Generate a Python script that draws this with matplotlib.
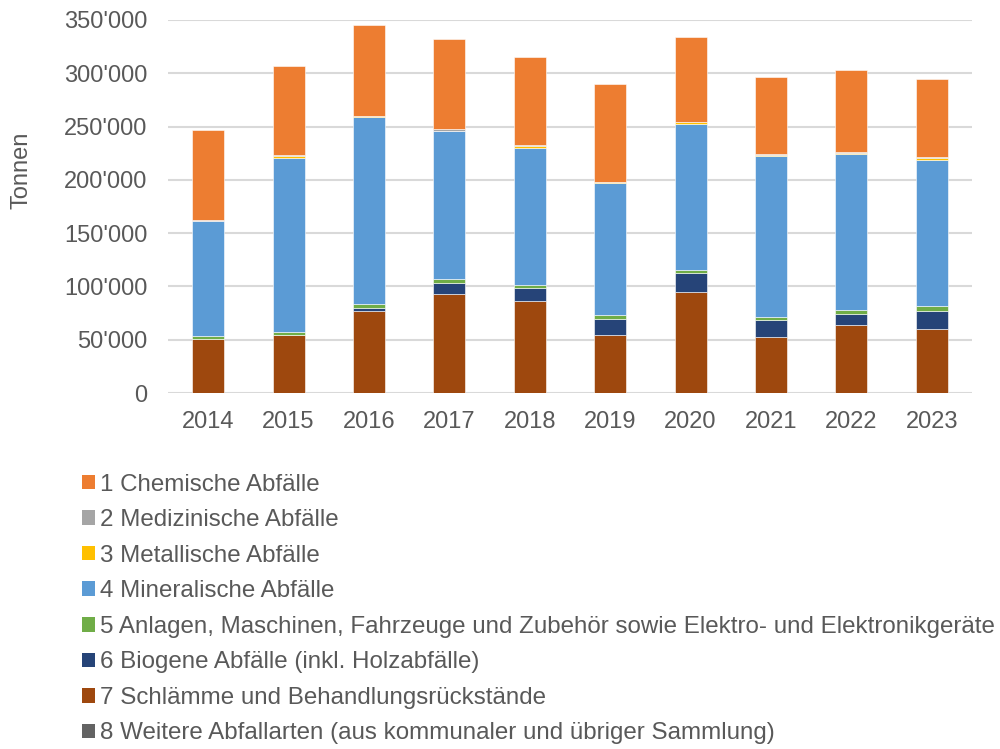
import matplotlib
matplotlib.use("Agg")
import matplotlib.pyplot as plt
from matplotlib.patches import Patch
from matplotlib.ticker import FuncFormatter
import numpy as np

plt.rcParams['font.family'] = ['Liberation Sans', 'DejaVu Sans']

years = ['2014', '2015', '2016', '2017', '2018', '2019', '2020', '2021', '2022', '2023']

labels = [
    '1 Chemische Abfälle',
    '2 Medizinische Abfälle',
    '3 Metallische Abfälle',
    '4 Mineralische Abfälle',
    '5 Anlagen, Maschinen, Fahrzeuge und Zubehör sowie Elektro- und Elektronikgeräte',
    '6 Biogene Abfälle (inkl. Holzabfälle)',
    '7 Schlämme und Behandlungsrückstände',
    '8 Weitere Abfallarten (aus kommunaler und übriger Sammlung)',
]
colors = ['#ED7D31', '#A5A5A5', '#FFC000', '#5B9BD5', '#70AD47', '#264478', '#9E480E', '#636363']

# tonnes per year
chemisch = [84800, 83700, 85400, 84400, 82400, 91400, 79500, 72700, 76500, 73900]
medizinisch = [1000, 400, 500, 1300, 400, 500, 500, 500, 900, 500]
metallisch = [200, 1900, 300, 300, 1900, 300, 1600, 1200, 1000, 1500]
mineralisch = [107800, 163100, 176300, 139000, 129100, 124400, 136900, 150900, 146300, 137200]
anlagen = [2500, 3000, 3100, 3500, 3100, 3400, 3400, 3500, 4300, 5000]
biogen = [300, 500, 3400, 10900, 11500, 15300, 17200, 15300, 9700, 16600]
schlaemme = [50600, 54000, 76600, 92500, 86600, 54400, 95000, 52800, 64100, 60300]
weitere = [0, 0, 0, 0, 0, 0, 0, 0, 0, 0]

series = [chemisch, medizinisch, metallisch, mineralisch, anlagen, biogen, schlaemme, weitere]

fig = plt.figure(figsize=(10, 7.49), dpi=100)
ax = fig.add_axes([0.168, 0.4753, 0.804, 0.498])

x = np.arange(len(years))
bottom = np.zeros(len(years))
# stack from series 8 at the bottom up to series 1 on top
for vals, col in zip(series[::-1], colors[::-1]):
    ax.bar(x, vals, 0.4, bottom=bottom, color=col, edgecolor='white', linewidth=0.4, zorder=3)
    bottom += np.array(vals)

ax.set_xlim(-0.5, 9.5)
ax.set_ylim(0, 350000)
ax.set_yticks(np.arange(0, 350001, 50000))
ax.yaxis.set_major_formatter(FuncFormatter(lambda v, p: f"{int(v):,}".replace(',', "'")))
ax.set_xticks(x)
ax.set_xticklabels(years)
ax.grid(axis='y', color='#D9D9D9', linewidth=1.5, zorder=0)
for s in ax.spines.values():
    s.set_visible(False)
ax.tick_params(length=0, labelsize=17, colors='#595959')
ax.tick_params(axis='y', pad=15)
ax.tick_params(axis='x', pad=13)

fig.text(0.022, 1 - 170 / 749, 'Tonnen', rotation=90, fontsize=17, color='#595959', ha='center', va='center')

handles = [Patch(facecolor=c, edgecolor='none') for c in colors]
leg = fig.legend(handles, labels, loc='upper left', bbox_to_anchor=(0.072, 1 - 464 / 749),
                 frameon=False, fontsize=17.4, handlelength=0.55, handleheight=0.55,
                 handletextpad=0.2, labelspacing=0.56, borderaxespad=0)
for t in leg.get_texts():
    t.set_color('#595959')

fig.savefig('out.png', dpi=100)
